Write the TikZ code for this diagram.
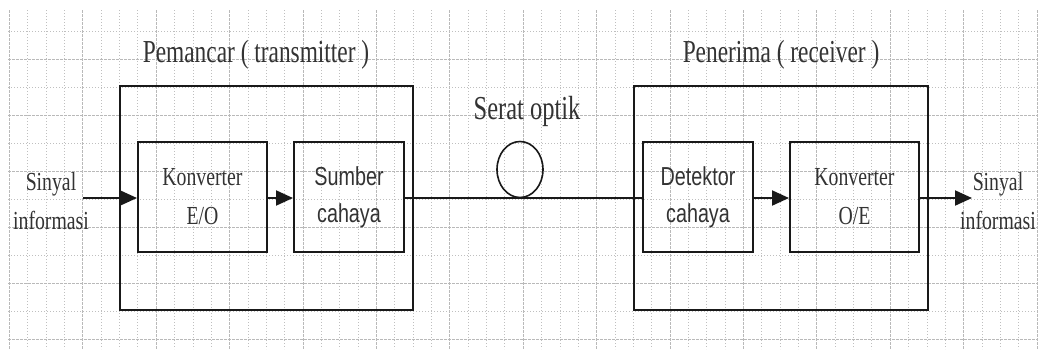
\documentclass[tikz,border=0pt]{standalone}
\usepackage{fontspec}
\newfontfamily\tnr[FakeStretch=0.76]{Liberation Serif}
\newfontfamily\tnrT[FakeStretch=0.73]{Liberation Serif}
\newfontfamily\ari[FakeStretch=0.76]{Liberation Sans}
\usetikzlibrary{arrows.meta,shapes.geometric}
\begin{document}
\begin{tikzpicture}[x=1pt,y=-1pt,
  gridminor/.style={draw=gray!50, line width=0.6pt, dash pattern=on 0.8pt off 2.2pt},
  gridmajor/.style={draw=gray!55, line width=0.6pt, dash pattern=on 2.5pt off 1.5pt},
  blk/.style={draw=black!90, line width=2pt, inner sep=0pt, text=black!80},
  lbl/.style={text=black!80, inner sep=0pt},
  serifA/.style={font=\tnr\fontsize{26}{39}\selectfont},
  serifB/.style={font=\tnrT\fontsize{32}{38}\selectfont},
  serifC/.style={font=\tnrT\fontsize{33.5}{38}\selectfont},
  sansA/.style={font=\ari\fontsize{26}{37}\selectfont},
  link/.style={line width=2pt, draw=black!90},
  arr/.style={link, -{Triangle[length=17pt,width=15pt]}}]
\useasboundingbox (0,0) rectangle (1042,349);
\fill[white] (0,0) rectangle (1042,349);
% grid
\foreach \k in {0,...,56}{
  \pgfmathsetmacro\gx{9.3+18.35*\k}
  \pgfmathtruncatemacro\m{mod(\k,4)}
  \ifnum\m=0 \def\st{gridmajor}\else\def\st{gridminor}\fi
  \draw[\st] (\gx,10) -- (\gx,349);
}
\foreach \j in {0,...,11}{
  \pgfmathsetmacro\gy{31+28*\j}
  \pgfmathtruncatemacro\m{mod(\j,2)}
  \ifnum\m=1 \def\st{gridmajor}\else\def\st{gridminor}\fi
  \draw[\st] (8,\gy) -- (1037,\gy);
}
% outer boxes
\node[blk, minimum width=293pt, minimum height=224pt] (tx) at (266.5,198) {};
\node[blk, minimum width=294pt, minimum height=224pt] (rx) at (781,198) {};
% inner boxes
\node[blk, serifA, align=center, minimum width=129pt, minimum height=110pt] (eo) at (202.5,197) {Konverter\\E/O};
\node[blk, sansA, align=center, minimum width=110pt, minimum height=110pt] (src) at (349,197) {Sumber\\cahaya};
\node[blk, sansA, align=center, minimum width=110pt, minimum height=110pt] (det) at (698,197) {Detektor\\cahaya};
\node[blk, serifA, align=center, minimum width=129pt, minimum height=110pt] (oe) at (854.5,197) {Konverter\\O/E};
% titles
\node[lbl, serifB, anchor=base] (txt) at (256,62) {Pemancar ( transmitter )};
\node[lbl, serifB, anchor=base] (rxt) at (781,62) {Penerima ( receiver )};
\node[lbl, serifC, anchor=base] (fib) at (527,119) {Serat optik};
% side labels
\node[lbl, serifA, align=center] (sinL) at (51,201) {Sinyal\\informasi};
\node[lbl, serifA, align=center] (sinR) at (998,201) {Sinyal\\informasi};
% fibre loop
\node[draw=black!90, line width=1.6pt, ellipse, minimum width=46pt, minimum height=56pt, inner sep=0pt] (loop) at (520,169.5) {};
% connectors
\coordinate (inL) at (83,198);
\coordinate (outR) at (972,198);
\draw[arr] (inL) -- (inL -| eo.west);
\draw[arr] (eo.east |- inL) -- (src.west |- inL);
\draw[link] (src.east |- inL) -- (det.west |- inL);
\draw[arr] (det.east |- inL) -- (oe.west |- inL);
\draw[arr] (oe.east |- inL) -- (outR);
\end{tikzpicture}
\end{document}
